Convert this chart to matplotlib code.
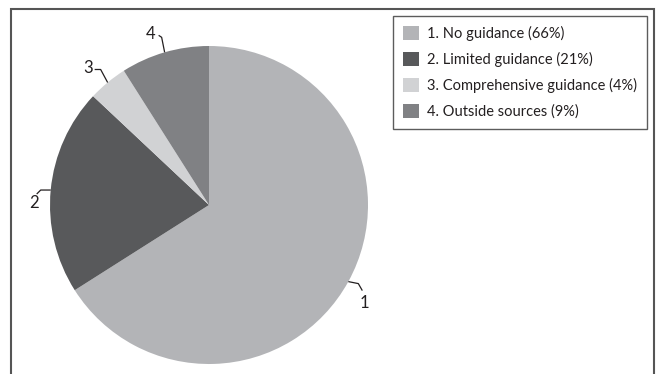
import matplotlib
matplotlib.use("Agg")
import matplotlib.pyplot as plt
from matplotlib.patches import Rectangle
import numpy as np

plt.rcParams['font.family'] = ['Lato', 'DejaVu Sans']

categories = ["No guidance", "Limited guidance", "Comprehensive guidance", "Outside sources"]
shares = [66, 21, 4, 9]
slice_labels = ["1", "2", "3", "4"]
colors = ["#b3b4b7", "#58595b", "#d1d2d4", "#808184"]

W, H = 656, 374
fig = plt.figure(figsize=(W / 100, H / 100), dpi=100)

# pie axes: centre and radius in pixels
cx, cy, r = 209, 205, 159
ax = fig.add_axes([(cx - r) / W, (H - cy - r) / H, 2 * r / W, 2 * r / H])
ax.set_xlim(-1, 1)
ax.set_ylim(-1, 1)
ax.set_aspect("equal")
ax.axis("off")

wedges, _ = ax.pie(shares, colors=colors, startangle=90, counterclock=False,
                   radius=1, center=(0, 0), wedgeprops=dict(linewidth=0))
ax.set_xlim(-1, 1)
ax.set_ylim(-1, 1)

# leader lines: offsets (in px) from the wedge edge for the knee and end point
px = 1 / r
leaders = [
    [(10, -2), (14, -9)],
    [(-10, 0), (-14, -4)],
    [(-7, 13), (-13, 13)],
    [(-3, 15), (-6, 17)],
]
text_off = [(16, -21), (-17, -13), (-20, 14), (-14, 18)]

for w, lab, lead, toff in zip(wedges, slice_labels, leaders, text_off):
    th = np.deg2rad((w.theta1 + w.theta2) / 2)
    ex, ey = np.cos(th), np.sin(th)
    xs = [ex] + [ex + dx * px for dx, dy in lead]
    ys = [ey] + [ey + dy * px for dx, dy in lead]
    ax.plot(xs, ys, color="#231f20", lw=0.9, solid_capstyle="butt", clip_on=False)
    ax.text(ex + toff[0] * px, ey + toff[1] * px, lab, ha="center", va="center",
            fontsize=12, color="#231f20", clip_on=False)

legend_labels = [f"{i + 1}. {c} ({s}%)" for i, (c, s) in enumerate(zip(categories, shares))]
leg = fig.legend(wedges, legend_labels, loc="upper left",
                 bbox_to_anchor=(393 / W, 1 - 16 / H), bbox_transform=fig.transFigure,
                 frameon=True, fancybox=False, fontsize=10.5,
                 handlelength=1.1, handleheight=1.1, handletextpad=0.55,
                 labelspacing=0.75, borderpad=0.7, borderaxespad=0)
leg.get_frame().set_edgecolor("#333333")
leg.get_frame().set_linewidth(1.0)
for t in leg.get_texts():
    t.set_color("#231f20")

# outer frame
fig.patches.append(Rectangle((10.5 / W, -0.05), (653.5 - 10.5) / W, 1.05 - 9 / H,
                             transform=fig.transFigure, fill=False,
                             edgecolor="#555555", lw=1.5))

fig.savefig("out.png", dpi=100)
